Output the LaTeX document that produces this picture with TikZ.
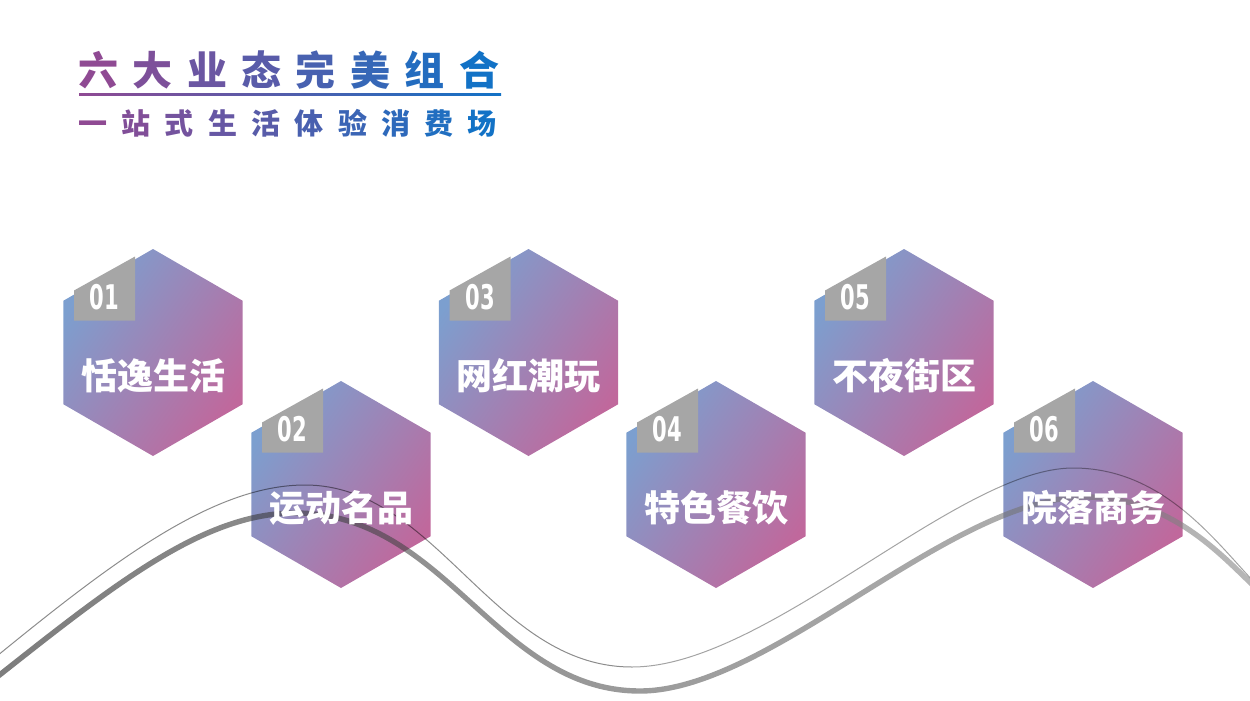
\documentclass[tikz,border=0pt]{standalone}
\usepackage{fontspec}
\usetikzlibrary{shapes.geometric}
\newfontfamily\headfont{Noto Sans CJK SC}
\newfontfamily\labelfont{Noto Sans CJK SC}
\newfontfamily\numfont{DejaVu Sans}
\definecolor{titlea}{HTML}{8F4A93}
\definecolor{titleb}{HTML}{1272C6}
\definecolor{hexa}{HTML}{7C9FCF}
\definecolor{hexm}{HTML}{AD8FBB}
\definecolor{hexb}{HTML}{C0689C}
\definecolor{tagfill}{HTML}{A6A6A6}
\definecolor{curvea}{gray}{0.15}
\definecolor{curvem}{gray}{0.43}
\definecolor{curveb}{gray}{0.53}
\tikzset{
  hexagon/.style={regular polygon,regular polygon sides=6,shape border rotate=30,minimum size=207pt,inner sep=0pt,outer sep=0pt,top color=hexa,middle color=hexm,bottom color=hexb,shading angle=55},
  hexlabel/.style={text=white,font=\labelfont\bfseries\fontsize{36}{36}\selectfont,inner sep=0pt},
  tagnum/.style={text=white,font=\numfont\bfseries\fontsize{34}{34}\selectfont,inner sep=0pt,xscale=.62,transform shape},
}
% one spaced letter of the heading, coloured by its place in the row
\newcommand{\headchar}[2]{\textcolor{titlea!#1!titleb}{#2}\hspace{14.4pt}}
\newcommand{\subchar}[2]{\textcolor{titlea!#1!titleb}{#2}\hspace{14.3pt}}
% grey number flag in the upper left of a hexagon
\newcommand{\hextag}[1]{%
  \fill[tagfill] ([shift={(-79,-32)}]#1.center) -- ([shift={(-79,-62)}]#1.center)
    -- ([shift={(-18,-96)}]#1.center) -- ([shift={(-18,-32)}]#1.center) -- cycle;}
\begin{document}
\begin{tikzpicture}[x=1pt,y=-1pt]
    \useasboundingbox (0,0) rectangle (1250,701);

    % Heading
    \node (heading) [anchor=west,inner sep=0pt,font=\headfont\bfseries\fontsize{40}{40}\selectfont] at (78,70) {%
      \headchar{100}{六}\headchar{86}{大}\headchar{71}{业}\headchar{57}{态}\headchar{43}{完}\headchar{29}{美}\headchar{14}{组}\headchar{0}{合}};
    \node (subheading) [anchor=west,inner sep=0pt,font=\headfont\bfseries\fontsize{29}{29}\selectfont] at (78,123) {%
      \subchar{100}{一}\subchar{89}{站}\subchar{78}{式}\subchar{67}{生}\subchar{56}{活}\subchar{44}{体}\subchar{33}{验}\subchar{22}{消}\subchar{11}{费}\subchar{0}{场}};
    \shade[left color=titlea,right color=titleb] (79,93.5) rectangle (501,95.5);

    % Hexagons
    \node[hexagon] (hex1) at (153,352.5) {};
    \node[hexagon] (hex2) at (341,484.5) {};
    \node[hexagon] (hex3) at (528.5,352.5) {};
    \node[hexagon] (hex4) at (716,484.5) {};
    \node[hexagon] (hex5) at (904,352.5) {};
    \node[hexagon] (hex6) at (1093,484.5) {};

    % Curves behind the labels
    \shade[left color=curvea,middle color=curvem,right color=curveb,opacity=.6]
      (-4.7,674.9) .. controls (115.3,579.9) and (203.8,510.3) .. (295,510.3)
      .. controls (447.2,510.3) and (497.2,688.3) .. (640,688.3)
      .. controls (769,688.3) and (949,494.3) .. (1085,494.3)
      .. controls (1171,494.3) and (1221.9,552) .. (1256.9,585)
      -- (1253.1,589) .. controls (1218.1,556) and (1169,499.7) .. (1085,499.7)
      .. controls (951,499.7) and (771,693.7) .. (640,693.7)
      .. controls (494.8,693.7) and (444.8,515.7) .. (295,515.7)
      .. controls (206.2,515.7) and (118.7,584.1) .. (-1.3,679.1) -- cycle;
    \draw[line width=1pt,black,opacity=.45] (-3,656) .. controls (117,558) and (215,485) .. (305,485)
      .. controls (437,485) and (493,667) .. (632,667);
    \draw[line width=1pt,black,opacity=.36] (632,667) .. controls (767,667) and (958,468) .. (1073,468)
      .. controls (1163,468) and (1215,541) .. (1255,583);

    % Number flags
    \hextag{hex1}
    \hextag{hex2}
    \hextag{hex3}
    \hextag{hex4}
    \hextag{hex5}
    \hextag{hex6}
    \node[tagnum] (num1) at ([shift={(-48.5,-55)}]hex1.center) {01};
    \node[tagnum] (num2) at ([shift={(-48.5,-55)}]hex2.center) {02};
    \node[tagnum] (num3) at ([shift={(-48.5,-55)}]hex3.center) {03};
    \node[tagnum] (num4) at ([shift={(-48.5,-55)}]hex4.center) {04};
    \node[tagnum] (num5) at ([shift={(-48.5,-55)}]hex5.center) {05};
    \node[tagnum] (num6) at ([shift={(-48.5,-55)}]hex6.center) {06};

    % Labels
    \node[hexlabel] (label1) at ([yshift=-23pt]hex1.center) {恬逸生活};
    \node[hexlabel] (label2) at ([yshift=-23pt]hex2.center) {运动名品};
    \node[hexlabel] (label3) at ([yshift=-23pt]hex3.center) {网红潮玩};
    \node[hexlabel] (label4) at ([yshift=-23pt]hex4.center) {特色餐饮};
    \node[hexlabel] (label5) at ([yshift=-23pt]hex5.center) {不夜街区};
    \node[hexlabel] (label6) at ([yshift=-23pt]hex6.center) {院落商务};
\end{tikzpicture}
\end{document}
